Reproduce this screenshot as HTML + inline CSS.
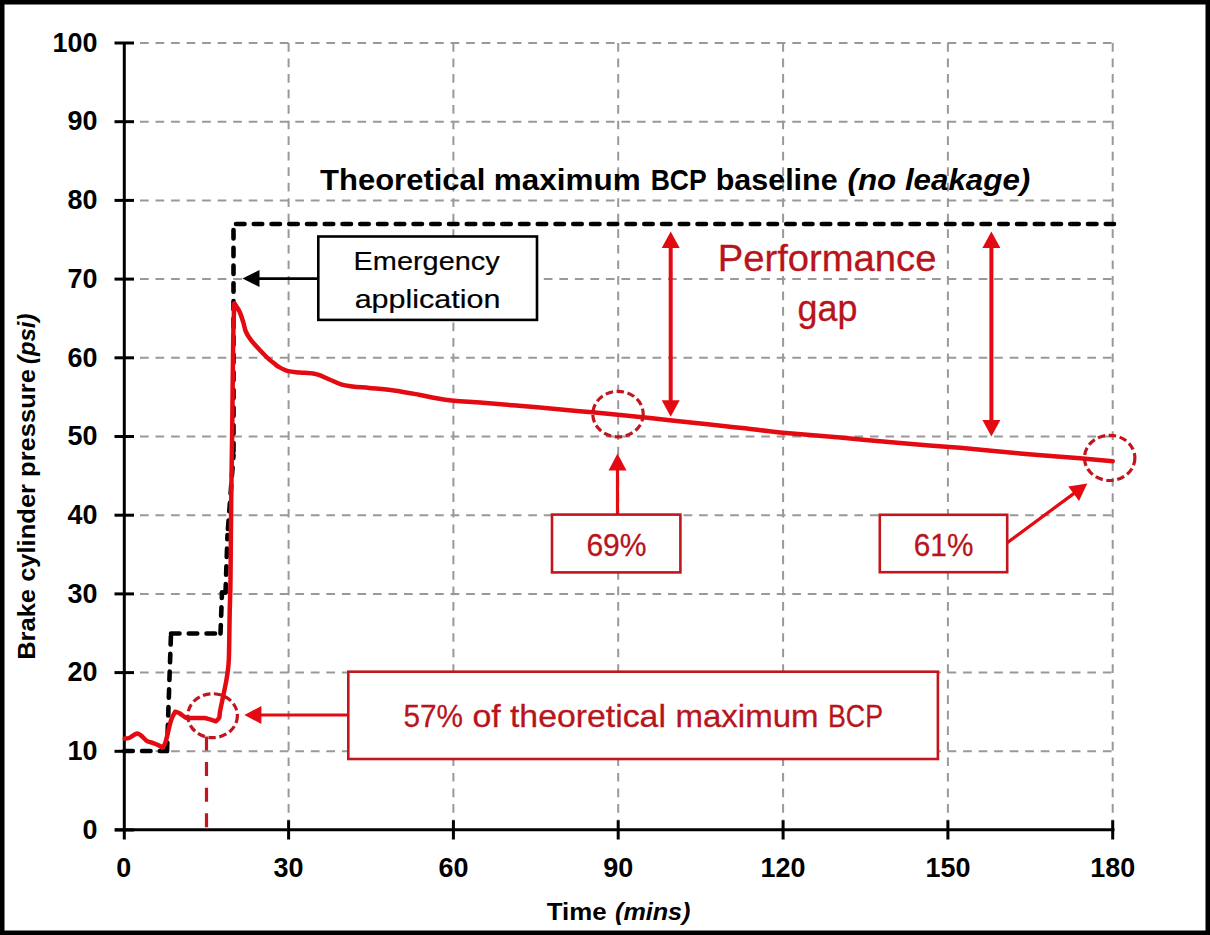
<!DOCTYPE html>
<html><head><meta charset="utf-8"><style>
html,body{margin:0;padding:0;background:#fff;}
body{width:1210px;height:935px;overflow:hidden;position:relative;}
svg{position:absolute;left:0;top:0;display:block;}
text{font-family:"Liberation Sans",sans-serif;}
.g{stroke:#999999;stroke-width:2;stroke-dasharray:8.7 6.83;}
.ax{stroke:#000;stroke-width:3;}
.tl{font-weight:bold;font-size:24.5px;fill:#000;}
.base{fill:none;stroke:#000;stroke-width:4.6;stroke-dasharray:8.5 9.25;stroke-linecap:round;stroke-linejoin:round;}
.data{fill:none;stroke:#e30a12;stroke-width:4.5;stroke-linejoin:round;stroke-linecap:round;}
.circ{fill:none;stroke:#c0161e;stroke-width:3.2;stroke-dasharray:7.5 3.6;}
.rdash{stroke:#c0161e;stroke-width:3.2;stroke-dasharray:14 11.6;}
.em{font-size:26.5px;fill:#000;stroke:#000;stroke-width:0.2px;}
.title{font-weight:bold;font-size:30px;fill:#000;}
.pg{font-size:36px;fill:#b8141b;stroke:#b8141b;stroke-width:0.3px;}
.pc{font-size:32px;fill:#b8141b;stroke:#b8141b;stroke-width:0.3px;}
.at{font-weight:bold;font-size:24px;fill:#000;}
</style></head><body>
<svg width="1210" height="935" viewBox="0 0 1210 935">
<rect x="2.25" y="2.25" width="1205.5" height="930.5" fill="#fff" stroke="#000" stroke-width="4.5"/>
<line x1="140" y1="751.3" x2="1113" y2="751.3" class="g"/>
<line x1="140" y1="672.6" x2="1113" y2="672.6" class="g"/>
<line x1="140" y1="593.9" x2="1113" y2="593.9" class="g"/>
<line x1="140" y1="515.2" x2="1113" y2="515.2" class="g"/>
<line x1="140" y1="436.5" x2="1113" y2="436.5" class="g"/>
<line x1="140" y1="357.8" x2="1113" y2="357.8" class="g"/>
<line x1="140" y1="279.1" x2="1113" y2="279.1" class="g"/>
<line x1="140" y1="200.4" x2="1113" y2="200.4" class="g"/>
<line x1="140" y1="121.7" x2="1113" y2="121.7" class="g"/>
<line x1="140" y1="43.0" x2="1113" y2="43.0" class="g"/>
<line x1="288.6" y1="43" x2="288.6" y2="820" class="g"/>
<line x1="453.4" y1="43" x2="453.4" y2="820" class="g"/>
<line x1="618.2" y1="43" x2="618.2" y2="820" class="g"/>
<line x1="783.1" y1="43" x2="783.1" y2="820" class="g"/>
<line x1="947.9" y1="43" x2="947.9" y2="820" class="g"/>
<line x1="1112.7" y1="43" x2="1112.7" y2="820" class="g"/>
<line x1="124.3" y1="43" x2="124.3" y2="839.5" class="ax"/>
<line x1="115" y1="829.7" x2="1114.5" y2="829.7" class="ax"/>
<line x1="114.5" y1="830.0" x2="134" y2="830.0" class="ax"/>
<line x1="114.5" y1="751.3" x2="134" y2="751.3" class="ax"/>
<line x1="114.5" y1="672.6" x2="134" y2="672.6" class="ax"/>
<line x1="114.5" y1="593.9" x2="134" y2="593.9" class="ax"/>
<line x1="114.5" y1="515.2" x2="134" y2="515.2" class="ax"/>
<line x1="114.5" y1="436.5" x2="134" y2="436.5" class="ax"/>
<line x1="114.5" y1="357.8" x2="134" y2="357.8" class="ax"/>
<line x1="114.5" y1="279.1" x2="134" y2="279.1" class="ax"/>
<line x1="114.5" y1="200.4" x2="134" y2="200.4" class="ax"/>
<line x1="114.5" y1="121.7" x2="134" y2="121.7" class="ax"/>
<line x1="114.5" y1="43.0" x2="134" y2="43.0" class="ax"/>
<line x1="288.6" y1="820.2" x2="288.6" y2="839.5" class="ax"/>
<line x1="453.4" y1="820.2" x2="453.4" y2="839.5" class="ax"/>
<line x1="618.2" y1="820.2" x2="618.2" y2="839.5" class="ax"/>
<line x1="783.1" y1="820.2" x2="783.1" y2="839.5" class="ax"/>
<line x1="947.9" y1="820.2" x2="947.9" y2="839.5" class="ax"/>
<line x1="1112.7" y1="820.2" x2="1112.7" y2="839.5" class="ax"/>
<text transform="translate(97.5,838.7) scale(1.1,1.12)" class="tl" text-anchor="end">0</text>
<text transform="translate(97.5,760.0) scale(1.1,1.12)" class="tl" text-anchor="end">10</text>
<text transform="translate(97.5,681.3) scale(1.1,1.12)" class="tl" text-anchor="end">20</text>
<text transform="translate(97.5,602.6) scale(1.1,1.12)" class="tl" text-anchor="end">30</text>
<text transform="translate(97.5,523.9) scale(1.1,1.12)" class="tl" text-anchor="end">40</text>
<text transform="translate(97.5,445.2) scale(1.1,1.12)" class="tl" text-anchor="end">50</text>
<text transform="translate(97.5,366.5) scale(1.1,1.12)" class="tl" text-anchor="end">60</text>
<text transform="translate(97.5,287.8) scale(1.1,1.12)" class="tl" text-anchor="end">70</text>
<text transform="translate(97.5,209.1) scale(1.1,1.12)" class="tl" text-anchor="end">80</text>
<text transform="translate(97.5,130.4) scale(1.1,1.12)" class="tl" text-anchor="end">90</text>
<text transform="translate(97.5,51.7) scale(1.1,1.12)" class="tl" text-anchor="end">100</text>
<text transform="translate(123.8,876.5) scale(1.1,1.12)" class="tl" text-anchor="middle">0</text>
<text transform="translate(288.6,876.5) scale(1.1,1.12)" class="tl" text-anchor="middle">30</text>
<text transform="translate(453.4,876.5) scale(1.1,1.12)" class="tl" text-anchor="middle">60</text>
<text transform="translate(618.2,876.5) scale(1.1,1.12)" class="tl" text-anchor="middle">90</text>
<text transform="translate(783.1,876.5) scale(1.1,1.12)" class="tl" text-anchor="middle">120</text>
<text transform="translate(947.9,876.5) scale(1.1,1.12)" class="tl" text-anchor="middle">150</text>
<text transform="translate(1112.7,876.5) scale(1.1,1.12)" class="tl" text-anchor="middle">180</text>
<line class="base" x1="124.3" y1="751" x2="167" y2="751"/>
<line class="base" x1="167" y1="751" x2="171" y2="633.5"/>
<line class="base" x1="171" y1="633.5" x2="220.5" y2="633.5"/>
<line class="base" x1="220.5" y1="633.5" x2="222" y2="592.5"/>
<line class="base" x1="222" y1="592.5" x2="225.5" y2="592.5"/>
<line class="base" x1="225.5" y1="592.5" x2="227.5" y2="535"/>
<line class="base" stroke-dashoffset="-6" x1="227.5" y1="535" x2="233.5" y2="455"/>
<line class="base" stroke-dashoffset="-6" x1="233.5" y1="224" x2="233.5" y2="455"/>
<line class="base" stroke-dashoffset="-2.5" x1="233.5" y1="224" x2="1114" y2="224"/>
<path class="data" d="M124.7,738.6 C125.42,738.50 127.03,738.82 129,738 C130.97,737.18 134.53,734.15 136.5,733.7 C138.47,733.25 139.02,734.05 140.8,735.3 C142.58,736.55 145.23,739.95 147.2,741.2 C149.17,742.45 150.63,742.08 152.6,742.8 C154.57,743.52 157.38,744.68 159,745.5 C160.62,746.32 161.75,747.33 162.3,747.7 C162.83,746.80 164.07,746.78 165.5,742.3 C166.93,737.82 169.28,725.90 170.9,720.8 C172.52,715.70 174.48,713.22 175.2,711.7 C175.92,711.97 177.72,712.32 179.5,713.3 C181.28,714.28 184.12,716.80 185.9,717.6 C187.68,718.40 187.15,718.02 190.2,718.1 C193.25,718.18 199.90,717.55 204.2,718.1 C208.50,718.65 214.03,720.85 216,721.4 C216.53,720.77 218.53,719.23 219.2,717.6 C219.87,715.97 219.32,715.28 220,711.6 C220.68,707.92 222.22,700.85 223.3,695.5 C224.38,690.15 225.62,684.85 226.5,679.5 C227.38,674.15 228.15,669.28 228.6,663.4 C229.05,657.52 229.02,652.77 229.2,644.2 C229.38,635.63 229.48,622.70 229.7,612 C229.92,601.30 230.25,598.67 230.5,580 C230.75,561.33 230.92,525.00 231.2,500 C231.48,475.00 231.87,456.67 232.2,430 C232.53,403.33 232.85,361.13 233.2,340 C233.55,318.87 234.12,309.33 234.3,303.2 C235.18,304.62 238.10,308.50 239.6,311.7 C241.10,314.90 242.23,319.02 243.3,322.4 C244.37,325.78 244.65,328.97 246,332 C247.35,335.03 249.07,337.57 251.4,340.6 C253.73,343.63 257.15,347.17 260,350.2 C262.85,353.23 266.00,356.50 268.5,358.8 C271.00,361.10 273.37,362.70 275,364 C276.63,365.30 276.10,365.40 278.3,366.6 C280.50,367.80 284.62,370.23 288.2,371.2 C291.78,372.17 295.67,372.02 299.8,372.4 C303.93,372.78 309.70,373.03 313,373.5 C316.30,373.97 316.85,374.20 319.6,375.2 C322.35,376.20 325.92,377.97 329.5,379.5 C333.08,381.03 337.25,383.25 341.1,384.4 C344.95,385.55 347.92,385.80 352.6,386.4 C357.28,387.00 362.30,387.32 369.2,388 C376.10,388.68 385.73,389.38 394,390.5 C402.27,391.62 411.92,393.45 418.8,394.7 C425.68,395.95 429.80,397.03 435.3,398 C440.80,398.97 444.35,399.73 451.8,400.5 C459.25,401.27 465.30,401.42 480,402.6 C494.70,403.78 520.83,405.93 540,407.6 C559.17,409.27 576.67,410.85 595,412.6 C613.33,414.35 630.83,416.10 650,418.1 C669.17,420.10 694.17,422.90 710,424.6 C725.83,426.30 733.33,427.00 745,428.3 C756.67,429.60 764.17,430.85 780,432.4 C795.83,433.95 820.00,435.82 840,437.6 C860.00,439.38 880.00,441.40 900,443.1 C920.00,444.80 940.00,446.08 960,447.8 C980.00,449.52 1000.00,451.65 1020,453.4 C1040.00,455.15 1064.55,457.00 1080,458.3 C1095.45,459.60 1107.25,460.72 1112.7,461.2"/>
<ellipse cx="212.6" cy="715.7" rx="24.8" ry="22" class="circ"/>
<ellipse cx="618" cy="414.1" rx="25.2" ry="22.8" class="circ"/>
<ellipse cx="1109.7" cy="457.9" rx="25.2" ry="22.6" class="circ"/>
<line x1="206.5" y1="736.5" x2="206.5" y2="831" class="rdash"/>
<line x1="670.7" y1="247.1" x2="670.7" y2="401.2" stroke="#e30a12" stroke-width="4"/><polygon points="670.7,231.6 661.7,248.1 679.7,248.1" fill="#e30a12"/><polygon points="670.7,416.7 661.7,400.2 679.7,400.2" fill="#e30a12"/>
<line x1="991.4" y1="247.1" x2="991.4" y2="421.0" stroke="#e30a12" stroke-width="4"/><polygon points="991.4,231.6 982.4,248.1 1000.4,248.1" fill="#e30a12"/><polygon points="991.4,436.5 982.4,420.0 1000.4,420.0" fill="#e30a12"/>
<line x1="318.3" y1="278.6" x2="258.5" y2="278.6" stroke="#000" stroke-width="2.6"/><polygon points="242.5,278.6 259.5,270.1 259.5,287.1" fill="#000"/>
<rect x="318.3" y="236.5" width="218.7" height="83.4" fill="#fff" stroke="#000" stroke-width="2.6"/>
<text x="353.62" y="269.8" class="em" textLength="146.09" lengthAdjust="spacingAndGlyphs">Emergency</text>
<text x="354.65" y="308.4" class="em" textLength="145.71" lengthAdjust="spacingAndGlyphs">application</text>
<text x="320.04" y="189.8" class="title" textLength="165.39" lengthAdjust="spacingAndGlyphs">Theoretical</text>
<text x="493.80" y="189.8" class="title" textLength="146.80" lengthAdjust="spacingAndGlyphs">maximum</text>
<text x="650.63" y="189.8" class="title" textLength="56.04" lengthAdjust="spacingAndGlyphs">BCP</text>
<text x="715.67" y="189.8" class="title" textLength="122.01" lengthAdjust="spacingAndGlyphs">baseline</text>
<text x="847.56" y="189.8" class="title" font-style="italic" textLength="182.69" lengthAdjust="spacingAndGlyphs">(no leakage)</text>
<text x="717.78" y="271.4" class="pg" textLength="218.71" lengthAdjust="spacingAndGlyphs">Performance</text>
<text x="797.61" y="321.4" class="pg" textLength="59.82" lengthAdjust="spacingAndGlyphs">gap</text>
<line x1="617.5" y1="514.6" x2="617.5" y2="469.6" stroke="#e30a12" stroke-width="3.2"/><polygon points="617.5,453.6 626.5,470.6 608.5,470.6" fill="#e30a12"/>
<rect x="552" y="514.6" width="128.4" height="57.8" fill="#fff" stroke="#c0161e" stroke-width="2.6"/>
<text x="586.39" y="555.8" class="pc" textLength="60.19" lengthAdjust="spacingAndGlyphs">69%</text>
<line x1="1007.2" y1="542.7" x2="1074.4" y2="493.1" stroke="#e30a12" stroke-width="3.2"/><polygon points="1087.3,483.6 1079.0,500.9 1068.3,486.5" fill="#e30a12"/>
<rect x="879.8" y="514.8" width="127.4" height="57.4" fill="#fff" stroke="#c0161e" stroke-width="2.6"/>
<text x="913.80" y="555.8" class="pc" textLength="59.57" lengthAdjust="spacingAndGlyphs">61%</text>
<line x1="348.3" y1="715.0" x2="260.4" y2="715.0" stroke="#e30a12" stroke-width="2.8"/><polygon points="244.4,715.0 261.4,706.0 261.4,724.0" fill="#e30a12"/>
<rect x="348.3" y="671.7" width="589.6" height="87.3" fill="#fff" stroke="#c0161e" stroke-width="2.6"/>
<text x="403.50" y="727.4" class="pc" textLength="59.57" lengthAdjust="spacingAndGlyphs">57%</text>
<text x="472.48" y="727.4" class="pc" textLength="28.26" lengthAdjust="spacingAndGlyphs">of</text>
<text x="509.97" y="727.4" class="pc" textLength="155.92" lengthAdjust="spacingAndGlyphs">theoretical</text>
<text x="675.54" y="727.4" class="pc" textLength="142.94" lengthAdjust="spacingAndGlyphs">maximum</text>
<text x="828.01" y="727.4" class="pc" textLength="54.98" lengthAdjust="spacingAndGlyphs">BCP</text>
<text x="546.73" y="919.8" class="at" textLength="59.88" lengthAdjust="spacingAndGlyphs">Time</text>
<text x="615.01" y="919.8" class="at" font-style="italic" textLength="75.47" lengthAdjust="spacingAndGlyphs">(mins)</text>
<text transform="translate(35.3,0) rotate(-90)" x="-659.89" y="0" class="at" textLength="290.78" lengthAdjust="spacingAndGlyphs">Brake cylinder pressure</text>
<text transform="translate(35.3,0) rotate(-90)" x="-363.94" y="0" class="at" font-style="italic" textLength="50.31" lengthAdjust="spacingAndGlyphs">(psi)</text>
</svg>
</body></html>
